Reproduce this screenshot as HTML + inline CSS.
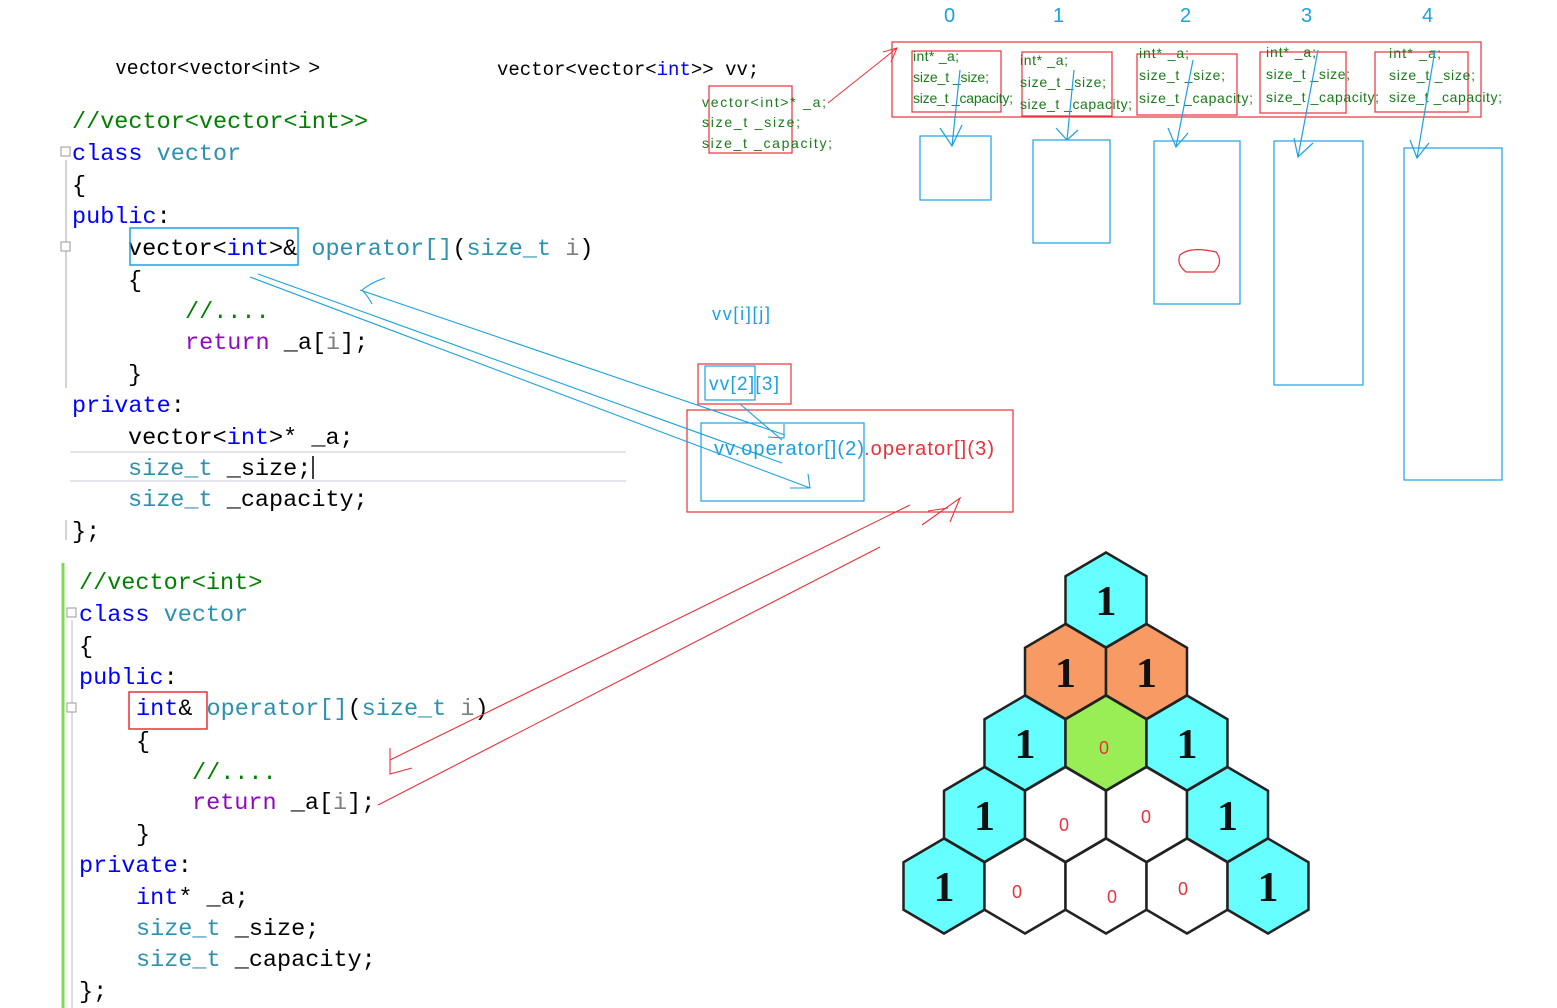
<!DOCTYPE html>
<html><head><meta charset="utf-8"><style>
html,body{margin:0;padding:0;background:#fff;width:1557px;height:1008px;overflow:hidden}
svg{display:block}
.m{font-family:"Liberation Mono",monospace;font-size:23.5px}
.c{fill:#008000}.k{fill:#0000ff}.t{fill:#2b91af}.p{fill:#8f08c4}.n{fill:#000}.g{fill:#808080}
.sm{font-family:"Liberation Sans",sans-serif;font-size:14px;fill:#1a7a1a}
</style></head><body>
<svg width="1557" height="1008" viewBox="0 0 1557 1008" xmlns="http://www.w3.org/2000/svg">
<defs><polygon id="hx" points="0,-47.5 40.5,-23.75 40.5,23.75 0,47.5 -40.5,23.75 -40.5,-23.75" stroke="#222" stroke-width="2.5"/></defs>

<text x="116" y="74" font-family="Liberation Sans,sans-serif" font-size="20" fill="#000" textLength="204">vector&lt;vector&lt;int&gt; &gt;</text>
<text x="497" y="75" font-family="Liberation Mono,monospace" font-size="19" fill="#000">vector&lt;vector&lt;<tspan fill="#0000ff">int</tspan>&gt;&gt; vv;</text>

<!-- top code -->
<line x1="66" y1="160" x2="66" y2="388" stroke="#aaa"/>
<line x1="66" y1="520" x2="66" y2="540" stroke="#aaa"/>
<rect x="61" y="147" width="9" height="9" fill="#fff" stroke="#999"/>
<rect x="61" y="242" width="9" height="9" fill="#fff" stroke="#999"/>
<line x1="70" y1="452" x2="626" y2="452" stroke="#e4e4ec" stroke-width="2"/>
<line x1="70" y1="481" x2="626" y2="481" stroke="#e4e4ec" stroke-width="2"/>
<g class="m">
<text x="72" y="128" class="c">//vector&lt;vector&lt;int&gt;&gt;</text>
<text x="72" y="160"><tspan class="k">class</tspan> <tspan class="t">vector</tspan></text>
<text x="72" y="192" class="n">{</text>
<text x="72" y="223"><tspan class="k">public</tspan><tspan class="n">:</tspan></text>
<text x="128" y="255"><tspan class="n">vector&lt;</tspan><tspan class="k">int</tspan><tspan class="n">&gt;&amp; </tspan><tspan class="t">operator[]</tspan><tspan class="n">(</tspan><tspan class="t">size_t</tspan> <tspan class="g">i</tspan><tspan class="n">)</tspan></text>
<text x="128" y="287" class="n">{</text>
<text x="185" y="318" class="c">//....</text>
<text x="185" y="349"><tspan class="p">return</tspan><tspan class="n"> _a[</tspan><tspan class="g">i</tspan><tspan class="n">];</tspan></text>
<text x="128" y="381" class="n">}</text>
<text x="72" y="412"><tspan class="k">private</tspan><tspan class="n">:</tspan></text>
<text x="128" y="444"><tspan class="n">vector&lt;</tspan><tspan class="k">int</tspan><tspan class="n">&gt;* _a;</tspan></text>
<text x="128" y="475"><tspan class="t">size_t</tspan><tspan class="n"> _size;</tspan></text>
<text x="128" y="506"><tspan class="t">size_t</tspan><tspan class="n"> _capacity;</tspan></text>
<text x="72" y="538" class="n">};</text>
</g>
<line x1="313" y1="456" x2="313" y2="479" stroke="#000" stroke-width="1.5"/>
<rect x="130" y="228" width="168" height="37" fill="none" stroke="#1ba1e2" stroke-width="1.5"/>

<!-- bottom code -->
<line x1="63" y1="563" x2="63" y2="1008" stroke="#7ed957" stroke-width="3"/>
<line x1="72" y1="620" x2="72" y2="1008" stroke="#bbb"/>
<rect x="67" y="608" width="9" height="9" fill="#fff" stroke="#999"/>
<rect x="67" y="703" width="9" height="9" fill="#fff" stroke="#999"/>
<g class="m">
<text x="79" y="589" class="c">//vector&lt;int&gt;</text>
<text x="79" y="621"><tspan class="k">class</tspan> <tspan class="t">vector</tspan></text>
<text x="79" y="653" class="n">{</text>
<text x="79" y="684"><tspan class="k">public</tspan><tspan class="n">:</tspan></text>
<text x="136" y="715"><tspan class="k">int</tspan><tspan class="n">&amp; </tspan><tspan class="t">operator[]</tspan><tspan class="n">(</tspan><tspan class="t">size_t</tspan> <tspan class="g">i</tspan><tspan class="n">)</tspan></text>
<text x="136" y="748" class="n">{</text>
<text x="192" y="779" class="c">//....</text>
<text x="192" y="809"><tspan class="p">return</tspan><tspan class="n"> _a[</tspan><tspan class="g">i</tspan><tspan class="n">];</tspan></text>
<text x="136" y="841" class="n">}</text>
<text x="79" y="872"><tspan class="k">private</tspan><tspan class="n">:</tspan></text>
<text x="136" y="904"><tspan class="k">int</tspan><tspan class="n">* _a;</tspan></text>
<text x="136" y="935"><tspan class="t">size_t</tspan><tspan class="n"> _size;</tspan></text>
<text x="136" y="966"><tspan class="t">size_t</tspan><tspan class="n"> _capacity;</tspan></text>
<text x="79" y="998" class="n">};</text>
</g>
<rect x="129" y="692" width="78" height="37" fill="none" stroke="#e8313a" stroke-width="1.5"/>

<!-- small left struct -->
<rect x="709" y="86" width="83" height="67" fill="none" stroke="#e8313a" stroke-width="1.2"/>
<text x="702" y="107" class="sm" textLength="124">vector&lt;int&gt;* _a;</text>
<text x="702" y="127" class="sm" textLength="98">size_t _size;</text>
<text x="702" y="148" class="sm" textLength="130">size_t _capacity;</text>
<path d="M828,103 L897,48 M883,52 L897,48 L891,62" fill="none" stroke="#e8313a" stroke-width="1"/>

<!-- indices -->
<g font-family="Liberation Sans,sans-serif" font-size="20" fill="#1ba1e2">
<text x="944" y="22">0</text><text x="1053" y="22">1</text><text x="1180" y="22">2</text><text x="1301" y="22">3</text><text x="1422" y="22">4</text>
</g>
<rect x="892" y="42" width="589" height="75" fill="none" stroke="#e8313a" stroke-width="1.2"/>
<g fill="none" stroke="#e8313a" stroke-width="1.2">
<rect x="912" y="51" width="89" height="61"/><rect x="1022" y="52" width="90" height="64"/>
<rect x="1137" y="54" width="100" height="61"/><rect x="1260" y="52" width="86" height="61"/>
<rect x="1375" y="52" width="93" height="60"/>
</g>
<g class="sm">
<text x="913" y="61" textLength="46">int* _a;</text><text x="913" y="82" textLength="76">size_t _size;</text><text x="913" y="103" textLength="100">size_t _capacity;</text>
<text x="1020" y="65" textLength="48">int* _a;</text><text x="1020" y="87" textLength="86">size_t _size;</text><text x="1020" y="109" textLength="112">size_t _capacity;</text>
<text x="1139" y="58" textLength="50">int* _a;</text><text x="1139" y="80" textLength="86">size_t _size;</text><text x="1139" y="103" textLength="114">size_t _capacity;</text>
<text x="1266" y="57" textLength="50">int* _a;</text><text x="1266" y="79" textLength="84">size_t _size;</text><text x="1266" y="102" textLength="113">size_t _capacity;</text>
<text x="1389" y="58" textLength="52">int* _a;</text><text x="1389" y="80" textLength="86">size_t _size;</text><text x="1389" y="102" textLength="113">size_t _capacity;</text>
</g>
<g fill="none" stroke="#1ba1e2" stroke-width="1.2">
<rect x="920" y="136" width="71" height="64"/><rect x="1033" y="140" width="77" height="103"/>
<rect x="1154" y="141" width="86" height="163"/><rect x="1274" y="141" width="89" height="244"/>
<rect x="1404" y="148" width="98" height="332"/>
<path d="M960,70 L952,146 M940,128 L952,146 L962,125"/>
<path d="M1074,70 L1067,140 M1056,128 L1067,140 L1078,130"/>
<path d="M1193,60 L1176,147 M1168,128 L1176,147 L1188,133"/>
<path d="M1318,50 L1298,157 M1294,138 L1298,157 L1313,143"/>
<path d="M1435,50 L1417,158 M1410,140 L1417,158 L1429,143"/>
</g>
<path d="M1180,255 Q1190,246 1216,252 Q1224,262 1214,272 L1186,272 Q1176,264 1180,255 Z" fill="none" stroke="#e8313a" stroke-width="1.2"/>

<!-- middle -->
<text x="712" y="320" font-family="Liberation Sans,sans-serif" font-size="18" fill="#1ba1e2" textLength="58">vv[i][j]</text>
<rect x="698" y="364" width="93" height="40" fill="none" stroke="#e8313a" stroke-width="1.2"/>
<rect x="705" y="366" width="50" height="34" fill="none" stroke="#1ba1e2" stroke-width="1.2"/>
<text x="709" y="390" font-family="Liberation Sans,sans-serif" font-size="19" fill="#1ba1e2" textLength="70">vv[2][3]</text>
<rect x="687" y="410" width="326" height="102" fill="none" stroke="#e8313a" stroke-width="1.2"/>
<rect x="701" y="423" width="163" height="78" fill="none" stroke="#1ba1e2" stroke-width="1.2"/>
<text x="714" y="455" font-family="Liberation Sans,sans-serif" font-size="20" fill="#1ba1e2" textLength="150">vv.operator[](2)</text>
<text x="864" y="455" font-family="Liberation Sans,sans-serif" font-size="20" fill="#e8313a" textLength="130">.operator[](3)</text>

<g fill="none" stroke="#1ba1e2" stroke-width="1.1">
<path d="M250,277 L810,488 M808,474 L810,488 L790,488"/>
<path d="M258,274 L782,463"/>
<path d="M360,290 L785,435 M784,424 L784,438 L768,437"/>
<path d="M362,290 Q372,282 385,278 M362,290 Q368,296 372,304"/>
<path d="M740,404 L782,440"/>
</g>
<g fill="none" stroke="#e8313a" stroke-width="1.1">
<path d="M910,505 L390,760 M390,748 L390,774 L412,768"/>
<path d="M880,547 L378,805"/>
<path d="M922,525 L960,498 L950,522 M928,511 L948,508"/>
</g>

<!-- hexes -->
<g fill="#66ffff">
<use href="#hx" x="1106" y="600"/>
<use href="#hx" x="1065.5" y="671.5" fill="#f79a63"/><use href="#hx" x="1146.5" y="671.5" fill="#f79a63"/>
<use href="#hx" x="1025" y="743"/><use href="#hx" x="1106" y="743" fill="#99ee55"/><use href="#hx" x="1187" y="743"/>
<use href="#hx" x="984.5" y="814.5"/><use href="#hx" x="1065.5" y="814.5" fill="#fff"/><use href="#hx" x="1146.5" y="814.5" fill="#fff"/><use href="#hx" x="1227.5" y="814.5"/>
<use href="#hx" x="944" y="886"/><use href="#hx" x="1025" y="886" fill="#fff"/><use href="#hx" x="1106" y="886" fill="#fff"/><use href="#hx" x="1187" y="886" fill="#fff"/><use href="#hx" x="1268" y="886"/>
</g>
<g font-family="Liberation Serif,serif" font-weight="bold" font-size="42" fill="#111" text-anchor="middle">
<text x="1106" y="615">1</text><text x="1065.5" y="687">1</text><text x="1146.5" y="687">1</text>
<text x="1025" y="758">1</text><text x="1187" y="758">1</text>
<text x="984.5" y="830">1</text><text x="1227.5" y="830">1</text>
<text x="944" y="901">1</text><text x="1268" y="901">1</text>
</g>
<g font-family="Liberation Sans,sans-serif" font-size="18" fill="#e8313a" text-anchor="middle">
<text x="1104" y="754">0</text><text x="1064" y="831">0</text><text x="1146" y="823">0</text>
<text x="1017" y="898">0</text><text x="1112" y="903">0</text><text x="1183" y="895">0</text>
</g>
</svg>
</body></html>
